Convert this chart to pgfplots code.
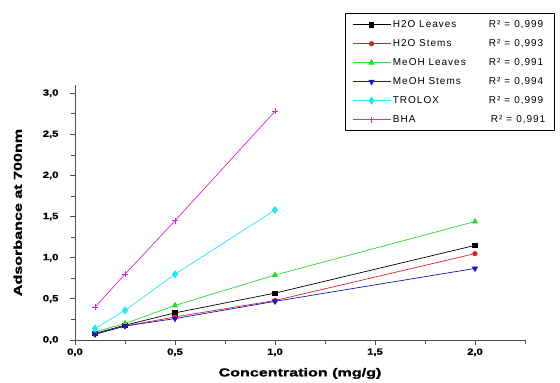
\documentclass[border=0pt]{standalone}
\usepackage{fontspec}
\setmainfont{Liberation Sans}
\newfontfamily\legfont[LetterSpace=10]{Liberation Sans}
\newfontfamily\labfont[FakeStretch=1.4,FakeBold=1.5]{Liberation Sans Bold}
\newfontfamily\tickfont[FakeStretch=1.25,FakeBold=1.2]{Liberation Sans Bold}
\usepackage{pgfplots}
\pgfplotsset{compat=1.18}
\definecolor{cgreen}{RGB}{40,220,40}
\definecolor{cblue}{RGB}{20,20,200}
\definecolor{ccyan}{RGB}{30,235,240}
\definecolor{cmag}{RGB}{210,40,210}
\definecolor{cred}{RGB}{225,30,40}
\pgfplotsset{longleg/.style={legend image code/.code={\draw[##1,mark=none] (0pt,0pt) -- (38pt,0pt); \draw[##1] plot coordinates {(19pt,0pt)};}}}
\newcommand{\rsq}[1]{R²\hspace{4pt}=\hspace{4pt}#1}
\begin{document}
\begin{tikzpicture}
\path (-75pt,-43pt) rectangle (485pt,340pt);
\begin{axis}[
  at={(0pt,0pt)}, anchor=origin,
  scale only axis, width=450pt, height=255pt,
  xmin=0, xmax=2.25, ymin=0, ymax=3.1,
  axis lines=left, axis line style={-, thick, black!70},
  xtick={0,0.5,1,1.5,2}, ytick={0,0.5,1,1.5,2,2.5,3},
  minor xtick={0.25,0.75,1.25,1.75,2.25},
  minor ytick={0.25,0.75,1.25,1.75,2.25,2.75},
  tick align=outside, major tick length=5pt, minor tick length=3.5pt,
  tick style={black!70, thick},
  /pgf/number format/.cd, fixed, fixed zerofill, precision=1, use comma, assume math mode=true,
  /pgfplots/.cd,
  ticklabel style={font=\tickfont\fontsize{9}{10}\selectfont},
  yticklabel style={xshift=-8pt},
  xticklabel style={yshift=0pt},
  xlabel={Concentration (mg/g)}, ylabel={Adsorbance at 700nm},
  label style={font=\labfont\fontsize{11.5}{13}\selectfont},
  xlabel style={yshift=-5pt},
  ylabel style={yshift=14pt},
  legend style={at={(1.066,1.282)}, anchor=north east, draw=black, thick,
    font=\legfont\fontsize{10}{12}\selectfont, inner xsep=7pt, inner ysep=5pt,
    row sep=6.5pt, legend cell align=left},
  every axis plot/.append style={line width=0.7pt},
]
\addplot[longleg, black, mark=square*, mark size=2.2pt] coordinates {(0.1,0.08) (0.25,0.18) (0.5,0.33) (1.0,0.57) (2.0,1.15)};
\addlegendentry{\makebox[96pt][l]{H2O Leaves}\rsq{0,999}}
\addplot[longleg, cred, mark=*, mark size=2.2pt] coordinates {(0.1,0.07) (0.25,0.17) (0.5,0.28) (1.0,0.48) (2.0,1.05)};
\addlegendentry{\makebox[96pt][l]{H2O Stems}\rsq{0,993}}
\addplot[longleg, cgreen, mark=triangle*, mark size=3pt] coordinates {(0.1,0.10) (0.25,0.20) (0.5,0.42) (1.0,0.79) (2.0,1.44)};
\addlegendentry{\makebox[96pt][l]{MeOH Leaves}\rsq{0,991}}
\addplot[longleg, cblue, mark=triangle*, mark options={rotate=180}, mark size=3pt] coordinates {(0.1,0.07) (0.25,0.17) (0.5,0.26) (1.0,0.47) (2.0,0.87)};
\addlegendentry{\makebox[96pt][l]{MeOH Stems}\rsq{0,994}}
\addplot[longleg, ccyan, mark=diamond*, mark size=3.5pt] coordinates {(0.1,0.14) (0.25,0.36) (0.5,0.80) (1.0,1.58)};
\addlegendentry{\makebox[96pt][l]{TROLOX}\rsq{0,999}}
\addplot[longleg, cmag, mark=+, mark size=3pt] coordinates {(0.1,0.40) (0.25,0.80) (0.5,1.45) (1.0,2.78)};
\addlegendentry{\makebox[98pt][l]{BHA}\rsq{0,991}}
\end{axis}
\end{tikzpicture}
\end{document}
